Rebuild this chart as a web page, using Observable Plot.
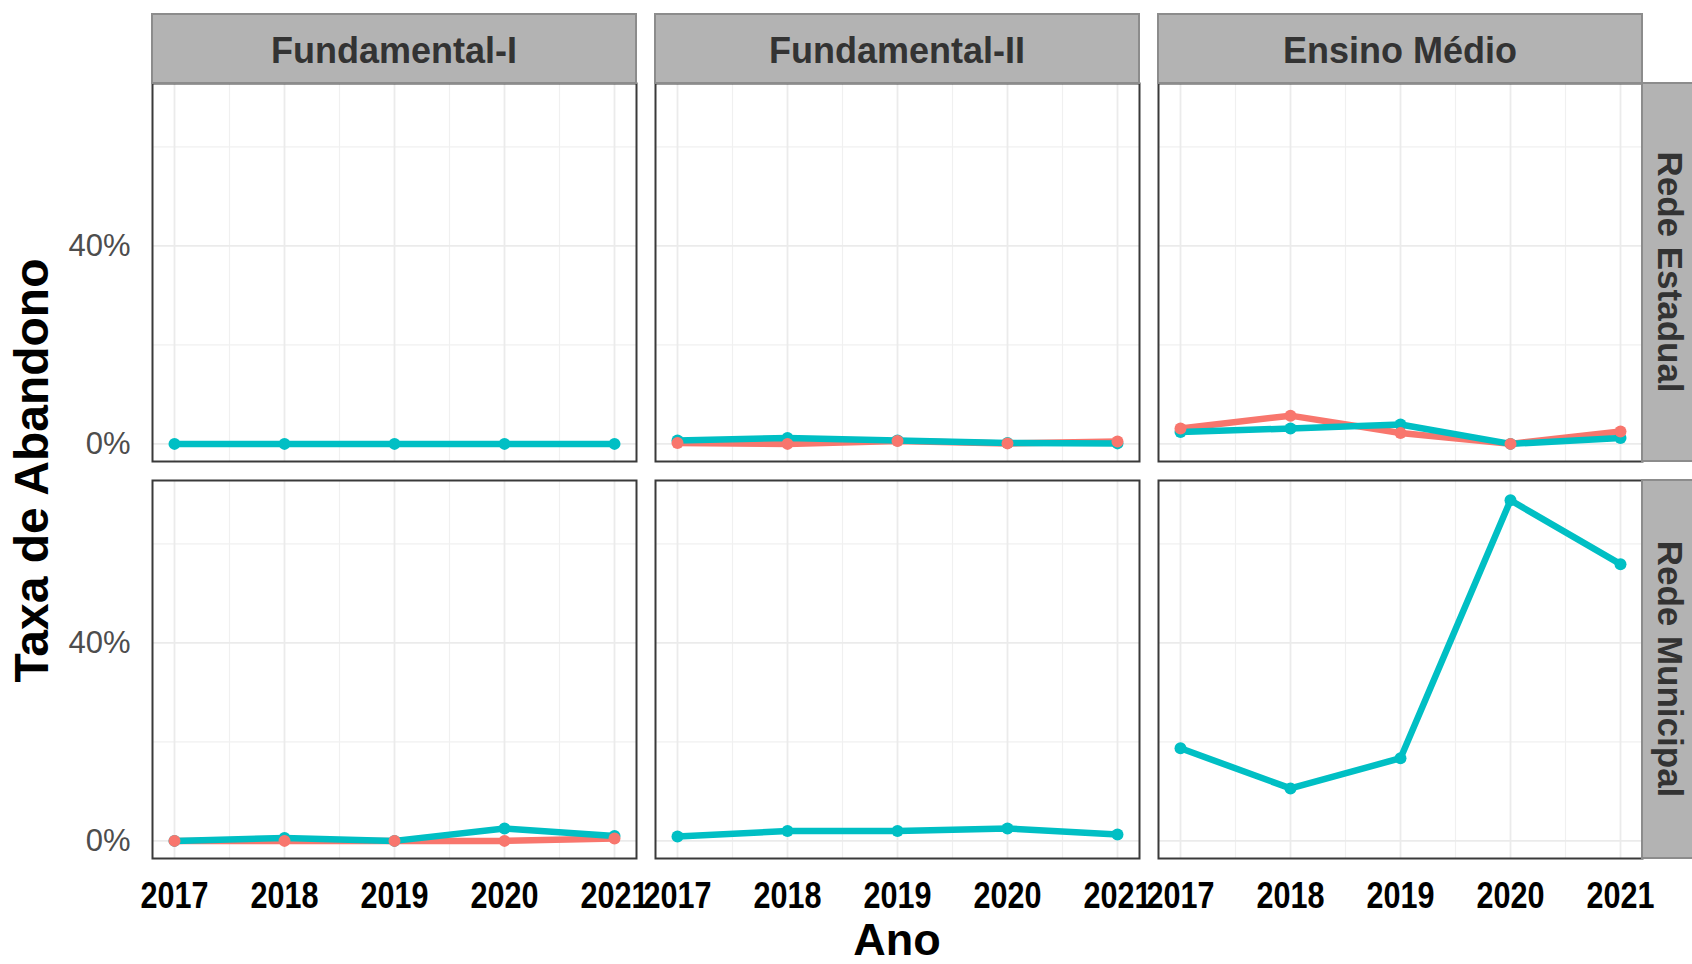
<!DOCTYPE html>
<html>
<head>
<meta charset="utf-8">
<script src="https://cdn.jsdelivr.net/npm/d3@7"></script>
<script src="https://cdn.jsdelivr.net/npm/@observablehq/plot@0.6"></script>
<style>
  html, body { margin: 0; padding: 0; background: #ffffff; }
  #chart svg { display: block; }
</style>
</head>
<body>
<div id="chart"></div>
<script>
// ---- Data (values in %) ----
const anos = [2017, 2018, 2019, 2020, 2021];
const niveis = ["Fundamental-I", "Fundamental-II", "Ensino Médio"];
const redes = ["Rede Estadual", "Rede Municipal"];
const series = ["Série 1", "Série 2"]; // red, cyan

// Rede Estadual
const estFund2S1 = [0.2, 0.0, 0.6, 0.1, 0.5];
const estMedioS1 = [3.1, 5.7, 2.2, 0.0, 2.5];
const estFund1S2 = [0.0, 0.0, 0.0, 0.0, 0.0];
const estFund2S2 = [0.7, 1.2, 0.7, 0.2, 0.1];
const estMedioS2 = [2.4, 3.1, 3.9, 0.0, 1.2];
// Rede Municipal
const munFund1S1 = [0.0, 0.0, 0.0, 0.0, 0.5];
const munFund1S2 = [0.0, 0.6, 0.0, 2.5, 1.0];
const munFund2S2 = [0.9, 2.0, 2.0, 2.5, 1.3];
const munMedioS2 = [18.7, 10.6, 16.7, 68.8, 55.9];

// grid / tick positions
const xMajor = anos;
const xMinor = [2017.5, 2018.5, 2019.5, 2020.5];
const yMajor = [0, 0.4];
const yMinor = [0.2, 0.6];

// ---- table built from the arrays ----
const seriesList = [
  {rede: redes[0], nivel: niveis[1], serie: series[0], v: estFund2S1},
  {rede: redes[0], nivel: niveis[2], serie: series[0], v: estMedioS1},
  {rede: redes[1], nivel: niveis[0], serie: series[0], v: munFund1S1},
  {rede: redes[0], nivel: niveis[0], serie: series[1], v: estFund1S2},
  {rede: redes[0], nivel: niveis[1], serie: series[1], v: estFund2S2},
  {rede: redes[0], nivel: niveis[2], serie: series[1], v: estMedioS2},
  {rede: redes[1], nivel: niveis[0], serie: series[1], v: munFund1S2},
  {rede: redes[1], nivel: niveis[1], serie: series[1], v: munFund2S2},
  {rede: redes[1], nivel: niveis[2], serie: series[1], v: munMedioS2}
];
const data = seriesList.flatMap(s => anos.map((a, i) => ({
  rede: s.rede, nivel: s.nivel, serie: s.serie, ano: a, taxa: s.v[i] / 100
})));
const dotsOrder = [...data].sort((a, b) => (a.serie === series[1] ? 0 : 1) - (b.serie === series[1] ? 0 : 1));

const W = 1692, H = 964;
const mL = 152, mR = 50, mT = 83, mB = 106;
const gap = 19;
const fxPad = gap / ((W - mL - mR + gap) / 3);
const fyPad = gap / ((H - mT - mB + gap) / 2);

const chart = Plot.plot({
  width: W,
  height: H,
  marginLeft: mL,
  marginRight: mR,
  marginTop: mT,
  marginBottom: mB,
  style: {fontFamily: "'Liberation Sans', Arial, sans-serif", background: "#ffffff", overflow: "hidden"},
  fx: {domain: niveis, paddingInner: fxPad, paddingOuter: 0, axis: null, label: null},
  fy: {domain: redes, paddingInner: fyPad, paddingOuter: 0, axis: null, label: null},
  x: {domain: [2016.8, 2021.2], label: null},
  y: {domain: [-0.0356, 0.728], label: null},
  color: {domain: series, range: ["#F8766D", "#00BFC4"]},
  marks: [
    Plot.ruleX(xMinor, {stroke: "#F0F0F0", strokeWidth: 1.2}),
    Plot.ruleY(yMinor, {stroke: "#F0F0F0", strokeWidth: 1.2}),
    Plot.ruleX(xMajor, {stroke: "#EBEBEB", strokeWidth: 1.8}),
    Plot.ruleY(yMajor, {stroke: "#EBEBEB", strokeWidth: 1.8}),
    Plot.frame({stroke: "#3A3A3A", strokeWidth: 2}),
    Plot.axisX({
      anchor: "bottom", ticks: anos, tickSize: 0, tickPadding: 24,
      tickFormat: d => String(d), label: null,
      fontSize: 36, fontWeight: "bold", fill: "#000000"
    }),
    Plot.axisY({
      anchor: "left", ticks: yMajor, tickSize: 0, tickPadding: 22,
      tickFormat: d => Math.round(d * 100) + "%", label: null,
      fontSize: 31, fill: "#4D4D4D"
    }),
    Plot.line(data, {x: "ano", y: "taxa", z: "serie", stroke: "serie", fx: "nivel", fy: "rede", strokeWidth: 6.5, strokeLinejoin: "round"}),
    Plot.dot(dotsOrder, {x: "ano", y: "taxa", fill: "serie", fx: "nivel", fy: "rede", r: 6})
  ]
});

document.getElementById("chart").appendChild(chart);

const svg = d3.select(chart);

// condensed look of the year tick labels
svg.selectAll('g[aria-label="x-axis tick label"] text')
  .attr("textLength", 68)
  .attr("lengthAdjust", "spacingAndGlyphs");

// ---- facet strips and axis titles, positioned with Plot's own facet scales ----
const fx = chart.scale("fx"), fy = chart.scale("fy");
const bw = fx.bandwidth, bh = fy.bandwidth;
const stripH = 69;
const g = svg.append("g");
const topY = fy.apply(redes[0]);
niveis.forEach(n => {
  const x0 = fx.apply(n);
  g.append("rect")
    .attr("x", x0).attr("y", topY - stripH)
    .attr("width", bw).attr("height", stripH)
    .attr("fill", "#B3B3B3").attr("stroke", "#8C8C8C").attr("stroke-width", 2);
  g.append("text")
    .attr("x", x0 + bw / 2).attr("y", topY - stripH / 2 + 2)
    .attr("text-anchor", "middle").attr("dominant-baseline", "central")
    .attr("font-family", "'Liberation Sans', Arial, sans-serif")
    .attr("font-size", 36).attr("font-weight", "bold").attr("fill", "#333333")
    .text(n);
});
const rightX = fx.apply(niveis[niveis.length - 1]) + bw;
redes.forEach(r => {
  const y0 = fy.apply(r);
  g.append("rect")
    .attr("x", rightX).attr("y", y0)
    .attr("width", stripH).attr("height", bh)
    .attr("fill", "#B3B3B3").attr("stroke", "#8C8C8C").attr("stroke-width", 2);
  g.append("text")
    .attr("transform", `translate(${rightX + stripH / 2 - 6},${y0 + bh / 2}) rotate(90)`)
    .attr("text-anchor", "middle").attr("dominant-baseline", "central")
    .attr("font-family", "'Liberation Sans', Arial, sans-serif")
    .attr("font-size", 35).attr("font-weight", "bold").attr("fill", "#333333")
    .text(r);
});
const fxRange = [fx.apply(niveis[0]), rightX];
g.append("text")
  .attr("x", (fxRange[0] + fxRange[1]) / 2).attr("y", 955)
  .attr("text-anchor", "middle")
  .attr("font-family", "'Liberation Sans', Arial, sans-serif")
  .attr("font-size", 45).attr("font-weight", "bold").attr("fill", "#000000")
  .text("Ano");
const fyMid = (fy.apply(redes[0]) + fy.apply(redes[1]) + bh) / 2;
g.append("text")
  .attr("transform", `translate(48,${fyMid}) rotate(-90)`)
  .attr("text-anchor", "middle")
  .attr("font-family", "'Liberation Sans', Arial, sans-serif")
  .attr("font-size", 48).attr("font-weight", "bold").attr("fill", "#000000")
  .text("Taxa de Abandono");
</script>
</body>
</html>
